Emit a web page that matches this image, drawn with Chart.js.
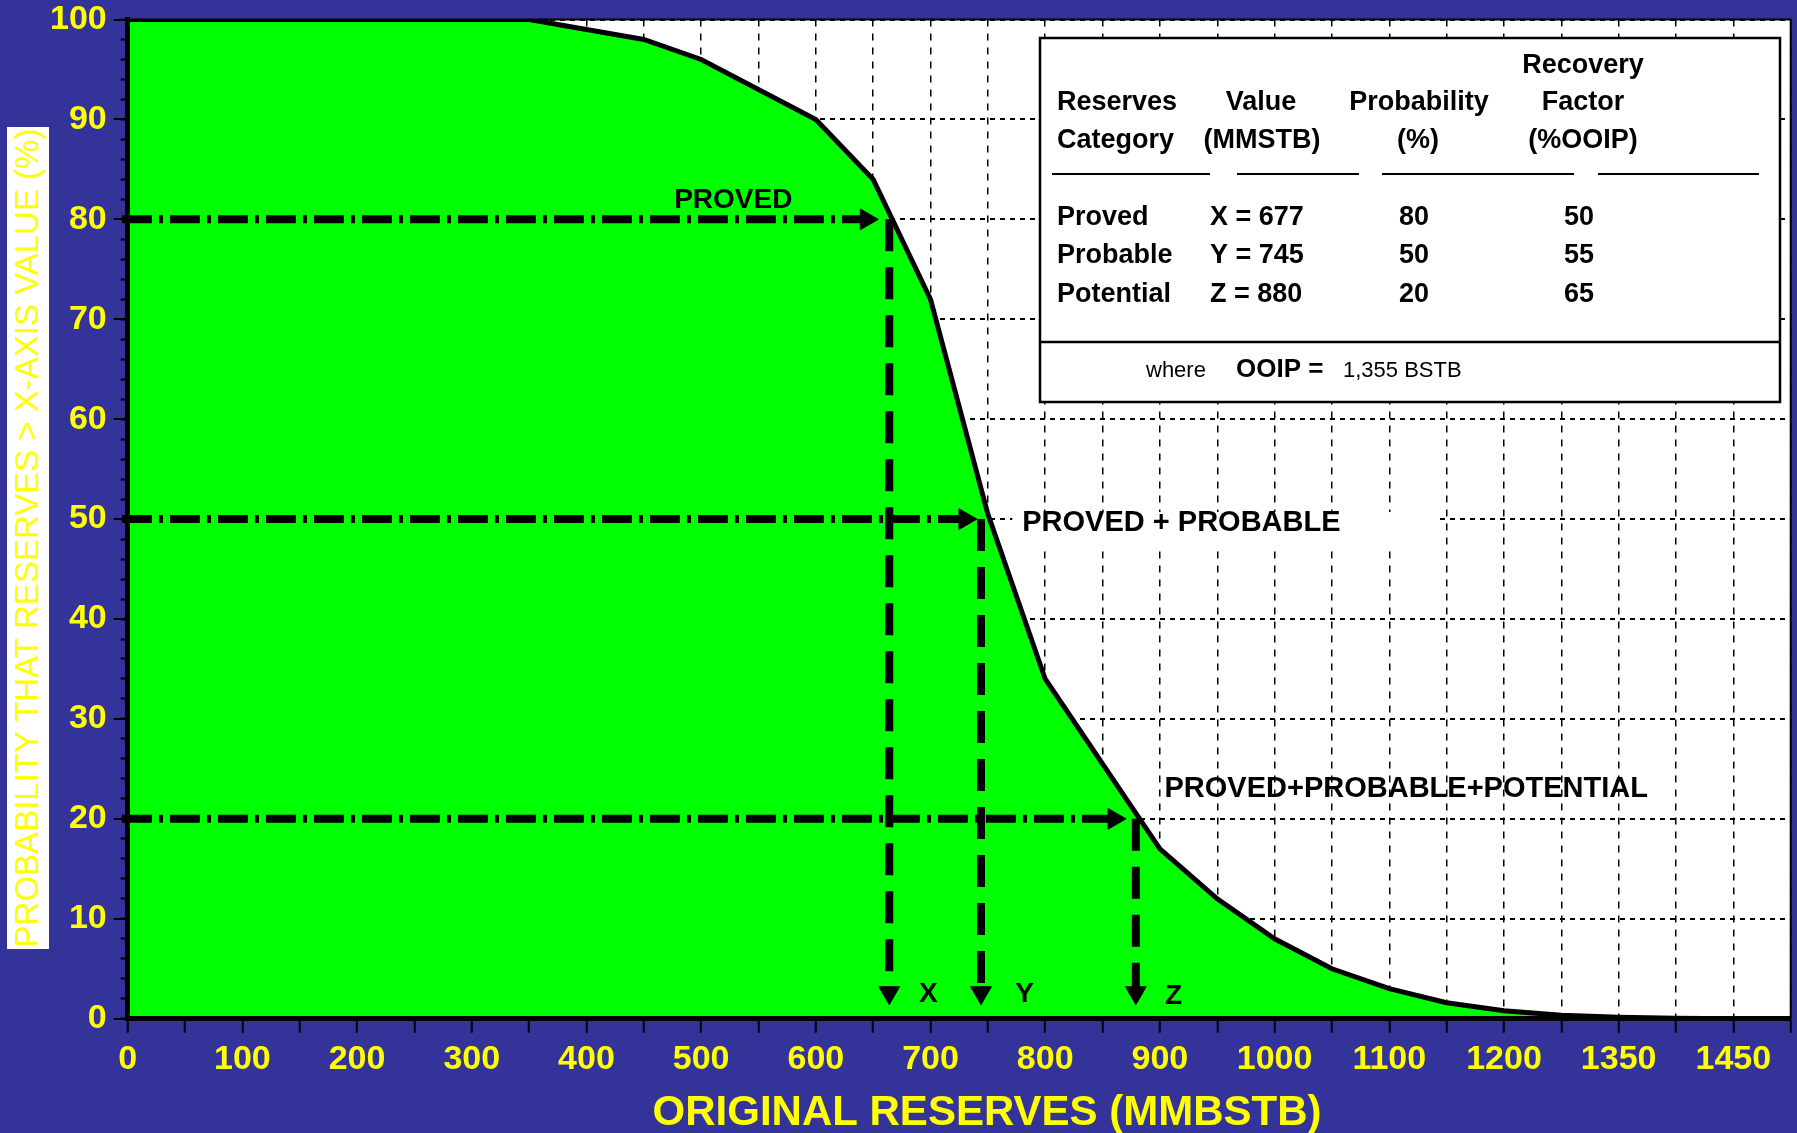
<!DOCTYPE html>
<html lang="en">
<head>
<meta charset="UTF-8">
<title>Original Reserves Probability</title>
<style>
  html, body { margin: 0; padding: 0; background: #333399; }
  canvas { display: block; }
</style>
</head>
<body>
<canvas id="chart" width="1797" height="1133"></canvas>
<script src="https://cdn.jsdelivr.net/npm/chart.js"></script>
<script>
const FAMILY = '"Liberation Sans", Arial, sans-serif';

// probability that reserves exceed x
const reservesX = [0, 350, 450, 500, 600, 650, 700, 750, 800, 900, 950, 1000, 1050, 1100, 1150, 1200, 1250, 1300, 1350, 1400, 1450];
const probabilityY = [100, 100, 98, 96, 90, 84, 72, 50.5, 34, 17, 12, 8, 5, 3, 1.6, 0.8, 0.35, 0.15, 0.05, 0, 0];

// x tick labels as printed (last two read 1350 / 1450)
const xTickValues = [0, 100, 200, 300, 400, 500, 600, 700, 800, 900, 1000, 1100, 1200, 1300, 1400];
const xTickLabels = ['0', '100', '200', '300', '400', '500', '600', '700', '800', '900', '1000', '1100', '1200', '1350', '1450'];

// reserves table
const categories = ['Proved', 'Probable', 'Potential'];
const letters = ['X', 'Y', 'Z'];
const reserveValues = [677, 745, 880];
const probabilities = [80, 50, 20];
const recoveryFactors = [50, 55, 65];
const ooipText = '1,355 BSTB';

// arrows as drawn on the chart
const arrowLevels = [80, 50, 20];
const arrowStartX = -5;
const arrowHeadX = [644, 730, 860];
const dropX = [664, 744, 879];
const dropEndY = 2.6;

// labels on the plot
const levelLabels = ['PROVED', 'PROVED + PROBABLE', 'PROVED+PROBABLE+POTENTIAL'];
const levelLabelX = [528, 780, 904];
const levelLabelY = [81.1, 48.8, 22.2];
const letterLabelX = [698, 782, 912];
const letterLabelY = [1.7, 1.7, 1.45];

Chart.defaults.font.family = FAMILY;

const datasets = [{
  data: reservesX.map((x, i) => ({ x: x, y: probabilityY[i] })),
  borderColor: '#000',
  borderWidth: 5,
  backgroundColor: '#00ff00',
  fill: 'origin',
  pointRadius: 0,
  tension: 0,
  order: 2
}];

arrowLevels.forEach((level, i) => {
  // horizontal dash-dot arrow to the curve
  datasets.push({
    data: [{ x: arrowStartX, y: level }, { x: arrowHeadX[i], y: level }],
    borderColor: '#000',
    borderWidth: 8,
    borderDash: [30, 7, 4, 7],
    borderCapStyle: 'butt',
    pointRadius: [0, 12],
    pointStyle: 'triangle',
    pointRotation: 90,
    pointBackgroundColor: '#000',
    pointBorderColor: '#000',
    pointBorderWidth: 1,
    fill: false,
    clip: false,
    order: 1
  });
  // dashed drop down to the x axis
  datasets.push({
    data: [{ x: dropX[i], y: level }, { x: dropX[i], y: dropEndY }],
    borderColor: '#000',
    borderWidth: 8,
    borderDash: [32, 16],
    borderCapStyle: 'butt',
    pointRadius: [0, 12],
    pointStyle: 'triangle',
    pointRotation: 180,
    pointBackgroundColor: '#000',
    pointBorderColor: '#000',
    pointBorderWidth: 1,
    fill: false,
    clip: false,
    order: 1
  });
});

function text(ctx, str, x, y, font, align) {
  ctx.font = font;
  ctx.textAlign = align || 'left';
  ctx.fillText(str, x, y);
}

function hline(ctx, x1, x2, y, w) {
  ctx.lineWidth = w;
  ctx.beginPath();
  ctx.moveTo(x1, y);
  ctx.lineTo(x2, y);
  ctx.stroke();
}

const overlay = {
  id: 'overlay',
  beforeDraw(chart) {
    const { ctx, chartArea: a } = chart;
    ctx.save();
    ctx.fillStyle = '#333399';
    ctx.fillRect(0, 0, chart.width, chart.height);
    ctx.fillStyle = '#fff';
    ctx.fillRect(a.left, a.top, a.right - a.left, a.bottom - a.top);
    ctx.restore();
  },
  afterDatasetsDraw(chart) {
    const { ctx, chartArea: a } = chart;
    const xs = chart.scales.x, ys = chart.scales.y;
    ctx.save();

    // top and right frame
    ctx.strokeStyle = '#000';
    ctx.lineWidth = 2;
    ctx.beginPath();
    ctx.moveTo(a.left, a.top);
    ctx.lineTo(a.right, a.top);
    ctx.lineTo(a.right, a.bottom);
    ctx.stroke();

    // level labels
    ctx.fillStyle = '#000';
    ctx.textBaseline = 'alphabetic';
    levelLabels.forEach((lab, i) => {
      const px = xs.getPixelForValue(levelLabelX[i]);
      const py = ys.getPixelForValue(levelLabelY[i]);
      if (i === 1) {
        ctx.fillStyle = '#fff';
        ctx.fillRect(px - 10, py - 19, 424, 36);
        ctx.fillStyle = '#000';
      }
      text(ctx, lab, px, py, 'bold ' + (i === 0 ? 28 : 29) + 'px ' + FAMILY, i === 0 ? 'center' : 'left');
    });
    letters.forEach((l, i) => {
      text(ctx, l, xs.getPixelForValue(letterLabelX[i]), ys.getPixelForValue(letterLabelY[i]),
        'bold 28px ' + FAMILY, 'center');
    });

    // table box
    const bx = 1040, by = 38, bw = 740, bh = 364;
    ctx.fillStyle = '#fff';
    ctx.fillRect(bx, by, bw, bh);
    ctx.strokeStyle = '#000';
    ctx.lineWidth = 2.5;
    ctx.strokeRect(bx, by, bw, bh);
    hline(ctx, bx, bx + bw, 342, 2.5);
    hline(ctx, 1052, 1210, 174, 2);
    hline(ctx, 1237, 1359, 174, 2);
    hline(ctx, 1382, 1574, 174, 2);
    hline(ctx, 1598, 1759, 174, 2);

    ctx.fillStyle = '#000';
    const hf = 'bold 27px ' + FAMILY;
    text(ctx, 'Recovery', 1583, 73, hf, 'center');
    text(ctx, 'Reserves', 1057, 110, hf, 'left');
    text(ctx, 'Value', 1261, 110, hf, 'center');
    text(ctx, 'Probability', 1419, 110, hf, 'center');
    text(ctx, 'Factor', 1583, 110, hf, 'center');
    text(ctx, 'Category', 1057, 148, hf, 'left');
    text(ctx, '(MMSTB)', 1262, 148, hf, 'center');
    text(ctx, '(%)', 1418, 148, hf, 'center');
    text(ctx, '(%OOIP)', 1583, 148, hf, 'center');
    categories.forEach((c, i) => {
      const y = 225 + 38.3 * i;
      text(ctx, c, 1057, y, hf, 'left');
      text(ctx, letters[i] + ' = ' + reserveValues[i], 1210, y, hf, 'left');
      text(ctx, String(probabilities[i]), 1414, y, hf, 'center');
      text(ctx, String(recoveryFactors[i]), 1579, y, hf, 'center');
    });
    text(ctx, 'where', 1146, 377, '22px ' + FAMILY, 'left');
    text(ctx, 'OOIP =', 1236, 377, 'bold 26px ' + FAMILY, 'left');
    text(ctx, ooipText, 1343, 377, '22px ' + FAMILY, 'left');
    ctx.restore();
  },
  afterDraw(chart) {
    const { ctx } = chart;
    ctx.save();
    // x axis title
    ctx.fillStyle = '#ffff00';
    ctx.textBaseline = 'alphabetic';
    text(ctx, 'ORIGINAL RESERVES (MMBSTB)', 987, 1125, 'bold 42px ' + FAMILY, 'center');
    // y axis title on white strip
    ctx.fillStyle = '#fff';
    ctx.fillRect(7, 127, 42, 822);
    ctx.translate(29, 538);
    ctx.rotate(-Math.PI / 2);
    ctx.fillStyle = '#ffff00';
    ctx.textBaseline = 'middle';
    text(ctx, 'PROBABILITY THAT RESERVES > X-AXIS VALUE (%)', 0, 0, '33px ' + FAMILY, 'center');
    ctx.restore();
  }
};

new Chart(document.getElementById('chart'), {
  type: 'line',
  data: { datasets: datasets },
  plugins: [overlay],
  options: {
    responsive: false,
    animation: false,
    devicePixelRatio: 1,
    layout: { autoPadding: false, padding: { left: 0, top: 19.5, right: 6.3, bottom: 0 } },
    plugins: { legend: { display: false }, tooltip: { enabled: false } },
    scales: {
      x: {
        type: 'linear',
        min: 0,
        max: 1450,
        afterFit: s => { s.height = 114.3; s.paddingLeft = 0; s.paddingRight = 0; },
        ticks: {
          stepSize: 50,
          autoSkip: false,
          maxRotation: 0,
          padding: 7,
          color: '#ffff00',
          font: { size: 34, weight: 'bold' },
          callback: v => {
            const i = xTickValues.indexOf(v);
            return i >= 0 ? xTickLabels[i] : '';
          }
        },
        grid: { color: '#000', lineWidth: 1.5, tickLength: 14, tickColor: '#000', tickWidth: 2 },
        border: { display: true, color: '#000', width: 5, dash: [7, 7], z: 1 }
      },
      y: {
        min: 0,
        max: 100,
        weight: 1,
        afterFit: s => { s.width = 127.7; s.paddingTop = 0; s.paddingBottom = 0; },
        ticks: {
          stepSize: 10,
          padding: 7,
          color: '#ffff00',
          font: { size: 34, weight: 'bold' }
        },
        grid: { color: '#000', lineWidth: 2, tickLength: 14, tickColor: '#000', tickWidth: 2 },
        border: { display: true, color: '#000', width: 5, dash: [5, 5], z: 1 }
      },
      yMinor: {
        position: 'left',
        min: 0,
        max: 100,
        weight: 0,
        afterFit: s => { s.width = 0; s.paddingTop = 0; s.paddingBottom = 0; },
        ticks: { stepSize: 2, display: false },
        grid: { drawOnChartArea: false, color: '#000', tickLength: 7, tickColor: '#000', tickWidth: 2 },
        border: { display: false }
      }
    }
  }
});
</script>
</body>
</html>
